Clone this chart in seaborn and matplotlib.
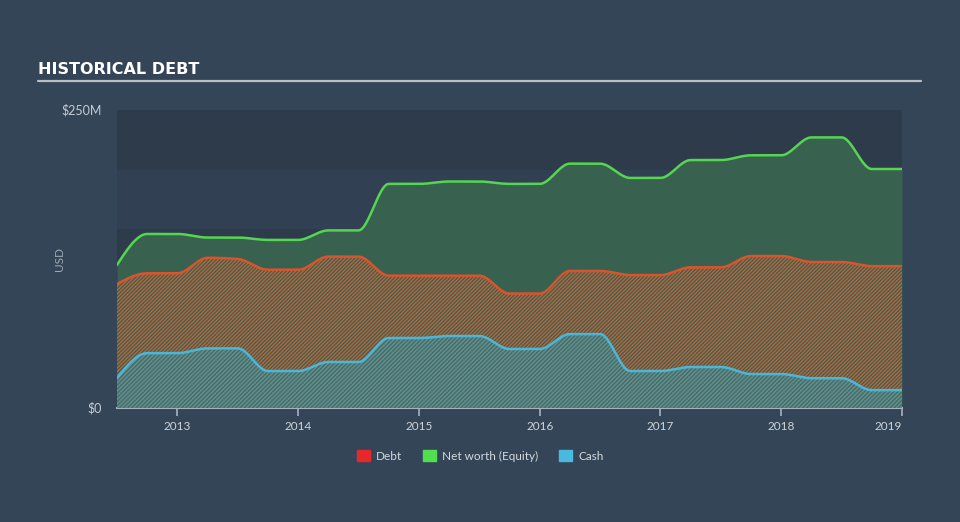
import numpy as np
import pandas as pd
import matplotlib
matplotlib.use("Agg")
import matplotlib.pyplot as plt
from matplotlib.patches import Patch
from matplotlib import font_manager
import seaborn as sns

# ---------------- data (USD millions) ----------------
dates = [2012.5, 2012.75, 2013.0, 2013.25, 2013.5, 2013.75, 2014.0, 2014.25, 2014.5,
         2014.75, 2015.0, 2015.25, 2015.5, 2015.75, 2016.0, 2016.25, 2016.5, 2016.75,
         2017.0, 2017.25, 2017.5, 2017.75, 2018.0, 2018.25, 2018.5, 2018.75, 2019.0]
equity = [120, 146, 146, 143, 143, 141, 141, 149, 149, 188, 188, 190, 190, 188, 188,
          205, 205, 193, 193, 208, 208, 212, 212, 227, 227, 200.5, 200.5]
debt = [104, 113, 113, 126, 125, 116, 116, 127, 127, 111, 111, 111, 111, 96, 96,
        115, 115, 111.5, 111.5, 118, 118, 127.5, 127.5, 122.5, 122.5, 119, 119]
cash = [25, 46, 46, 50, 50, 31, 31, 38.6, 38.6, 58.7, 58.7, 60.4, 60.4, 49.5, 49.5,
        62, 62, 31, 31, 34.4, 34.4, 28.5, 28.5, 25, 25, 15, 15]
year_ticks = [2013, 2014, 2015, 2016, 2017, 2018, 2019]
y_ticks = [0, 250]
y_labels = ["$0", "$250M"]
legend_labels = ["Debt", "Net worth (Equity)", "Cash"]


def monotone_curve(x, y, n=24):
    """Monotone cubic (d3 monotoneX style) rendering of a series."""
    x = np.asarray(x, float)
    y = np.asarray(y, float)
    h = np.diff(x)
    s = np.diff(y) / h
    m = np.zeros_like(y)
    for i in range(1, len(y) - 1):
        h0, h1, s0, s1 = h[i - 1], h[i], s[i - 1], s[i]
        p = (s0 * h1 + s1 * h0) / (h0 + h1)
        m[i] = (np.sign(s0) + np.sign(s1)) * min(abs(s0), abs(s1), 0.5 * abs(p))
    m[0] = (3 * s[0] - m[1]) / 2
    m[-1] = (3 * s[-1] - m[-2]) / 2
    xs, ys = [], []
    for i in range(len(h)):
        t = np.linspace(0, 1, n, endpoint=False)
        h00 = 2 * t**3 - 3 * t**2 + 1
        h10 = t**3 - 2 * t**2 + t
        h01 = -2 * t**3 + 3 * t**2
        h11 = t**3 - t**2
        xs.append(x[i] + t * h[i])
        ys.append(h00 * y[i] + h10 * h[i] * m[i] + h01 * y[i + 1] + h11 * h[i] * m[i + 1])
    xs.append([x[-1]])
    ys.append([y[-1]])
    return np.concatenate(xs), np.concatenate(ys)


sns.set_theme(style="dark")
plt.rcParams["font.family"] = ["Lato", "DejaVu Sans"]
plt.rcParams["hatch.linewidth"] = 1.0

installed = {f.name for f in font_manager.fontManager.ttflist}
title_family = ["Liberation Sans Narrow"] if "Liberation Sans Narrow" in installed else ["DejaVu Sans"]

BG = "#344558"
fig = plt.figure(figsize=(9.6, 5.22), dpi=100, facecolor=BG)
ax = fig.add_axes([117 / 960, 1 - 408 / 522, (902 - 117) / 960, (408 - 110) / 522])
ax.set_facecolor("#2e3c4d")

# alternating background bands
for k, lo in enumerate(range(0, 250, 50)):
    ax.axhspan(lo, lo + 50, color="#2e3b4b" if k % 2 == 0 else "#314052", lw=0, zorder=0)

xe, ye = monotone_curve(dates, equity)
xd, yd = monotone_curve(dates, debt)
xc, yc = monotone_curve(dates, cash)

FILL = "#39614f"
ax.fill_between(xe, 0, ye, color=FILL, lw=0, zorder=1)
ax.fill_between(xd, 0, yd, facecolor=FILL, edgecolor="#b6653e", hatch="/////////",
                lw=0, zorder=2)
ax.fill_between(xc, 0, yc, facecolor="#4f6b62", edgecolor="#5a9498", hatch="////////",
                lw=0, zorder=3)

df = pd.concat([
    pd.DataFrame({"date": xe, "value": ye, "series": "Net worth (Equity)"}),
    pd.DataFrame({"date": xd, "value": yd, "series": "Debt"}),
    pd.DataFrame({"date": xc, "value": yc, "series": "Cash"}),
])
sns.lineplot(data=df, x="date", y="value", hue="series", sort=False, estimator=None,
             palette={"Net worth (Equity)": "#55d651", "Debt": "#d9542c", "Cash": "#4cb6d9"},
             lw=1.8, legend=False, ax=ax, zorder=5)

ax.set_xlim(2012.5, 2019.0)
ax.set_ylim(0, 250)
ax.set_xticks(year_ticks)
ax.set_xticklabels([str(y) for y in year_ticks])
ax.set_yticks(y_ticks)
ax.set_yticklabels(y_labels)
labs = ax.get_xticklabels()
labs[-1].set_horizontalalignment("right")
ax.tick_params(axis="x", colors="#a8b2bc", length=6, width=1.2, direction="out", pad=3,
               labelcolor="#d0d4d8", labelsize=8.5, bottom=True)
ax.tick_params(axis="y", length=0, pad=11, labelcolor="#c8ccd2", labelsize=9)
for lab in ax.get_yticklabels():
    lab.set_verticalalignment("center")
ax.set_xlabel("")
ax.set_ylabel("USD", color="#a0a9b2", fontsize=8.5)
ax.yaxis.set_label_coords((65 - 117) / 785, 0.5)
for side in ["left", "right", "top"]:
    ax.spines[side].set_visible(False)
ax.spines["bottom"].set_color("#a8b2bc")
ax.spines["bottom"].set_linewidth(1.5)
ax.grid(False)

# title and rule
fig.text(38 / 960, 1 - 74 / 522, "HISTORICAL DEBT", color="white", fontsize=11.5,
         fontweight="bold", family=title_family, va="baseline")
fig.add_artist(plt.Line2D([38 / 960, 921 / 960], [1 - 81 / 522] * 2, color="#b8bfc6", lw=1.6))

handles = [Patch(color="#e8272b"), Patch(color="#50df4f"), Patch(color="#49b9e0")]
leg = fig.legend(handles, legend_labels, loc="center", bbox_to_anchor=(0.5, 1 - 456 / 522),
                 ncol=3, frameon=False, fontsize=8.5, handlelength=1.1, handleheight=1.1,
                 handletextpad=0.5, columnspacing=1.8)
for t in leg.get_texts():
    t.set_color("#d5d9dd")

fig.savefig("out.png", dpi=100, facecolor=BG)
